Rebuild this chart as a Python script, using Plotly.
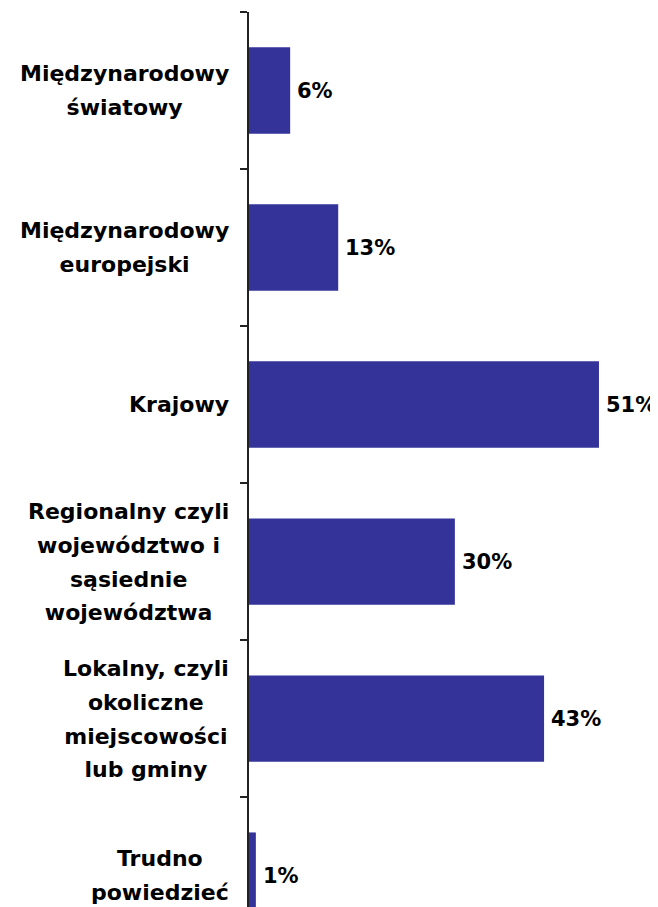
import plotly.graph_objects as go

categories = [
    "Międzynarodowy światowy",
    "Międzynarodowy europejski",
    "Krajowy",
    "Regionalny czyli województwo i sąsiednie województwa",
    "Lokalny, czyli okoliczne miejscowości lub gminy",
    "Trudno powiedzieć",
]
category_lines = [
    ["Międzynarodowy", "światowy"],
    ["Międzynarodowy", "europejski"],
    ["Krajowy"],
    ["Regionalny czyli", "województwo i", "sąsiednie", "województwa"],
    ["Lokalny, czyli", "okoliczne", "miejscowości", "lub gminy"],
    ["Trudno", "powiedzieć"],
]
values = [6, 13, 51, 30, 43, 1]
value_labels = ["6%", "13%", "51%", "30%", "43%", "1%"]

FONT = "DejaVu Sans"
BAR_COLOR = "#333399"

fig = go.Figure()
fig.add_trace(go.Bar(
    x=values,
    y=categories,
    orientation="h",
    width=0.55,
    marker=dict(color=BAR_COLOR, line=dict(width=0)),
    hoverinfo="skip",
))

for cat, lines, v, lab in zip(categories, category_lines, values, value_labels):
    fig.add_annotation(
        x=v, y=cat, xref="x", yref="y",
        text=lab, showarrow=False,
        xanchor="left", yanchor="middle", xshift=5,
        font=dict(family=FONT, size=21, color="black", weight="bold"),
    )
    text = "<br>".join('<span style="font-size:22px">%s</span>' % ln for ln in lines)
    fig.add_annotation(
        x=0, y=cat, xref="paper", yref="y",
        text=text, showarrow=False, align="center",
        xanchor="right", yanchor="middle", xshift=-18,
        font=dict(family=FONT, size=26, color="black", weight="bold"),
    )

fig.update_layout(
    width=650, height=899,
    margin=dict(l=241, r=11, t=4, b=0),
    paper_bgcolor="white", plot_bgcolor="white",
    showlegend=False,
    xaxis=dict(range=[0, 58], visible=False, showgrid=False, zeroline=False),
    yaxis=dict(
        type="category",
        categoryorder="array", categoryarray=categories,
        range=[5.2, -0.5],
        showticklabels=False,
        showgrid=False, zeroline=False,
        showline=True, linecolor="#222222", linewidth=2,
        ticks="outside", ticklen=7, tickcolor="#222222", tickwidth=2,
        tickson="boundaries",
    ),
)

fig.write_html("out.html")
